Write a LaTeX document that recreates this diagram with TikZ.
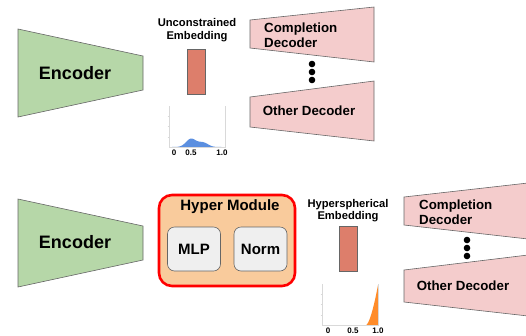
\documentclass[tikz,border=0pt]{standalone}
\usepackage{fontspec}
\setmainfont{Liberation Sans}
\definecolor{encgreen}{HTML}{B6D7A8}
\definecolor{decpink}{HTML}{F4CCCC}
\definecolor{embred}{HTML}{DD7E6B}
\definecolor{hyperorange}{HTML}{F9CB9C}
\definecolor{boxgray}{HTML}{EFEFEF}
\definecolor{edgegray}{HTML}{666666}
\definecolor{axisgray}{HTML}{D9D9D9}
\definecolor{histblue}{HTML}{5B8FE0}
\definecolor{historange}{HTML}{FF8C2A}
\begin{document}
\begin{tikzpicture}[x=1pt,y=-1pt,
  shapeline/.style={draw=edgegray,line width=0.6pt},
  bigtxt/.style={font=\fontsize{18}{20}\selectfont\bfseries,inner sep=0pt},
  dectxt/.style={font=\fontsize{13.3}{14.5}\selectfont\bfseries,inner sep=0pt,align=left},
  embtxt/.style={font=\fontsize{11.2}{12.5}\selectfont\bfseries,inner sep=0pt,align=center},
  modtxt/.style={font=\fontsize{15}{17}\selectfont\bfseries,inner sep=0pt},
  ticktxt/.style={font=\fontsize{8}{9}\selectfont\bfseries,inner sep=0pt},
  axisline/.style={draw=axisgray,line width=0.6pt},
  dot/.style={fill=black}]
\useasboundingbox (0,0) rectangle (526,335);
\begin{scope}
\clip (0,0) rectangle (526,335);
% ---------------- top row ----------------
\draw[shapeline,fill=encgreen] (18,29) -- (143,56) -- (143,90) -- (18,117) -- cycle;
\node[bigtxt] (enc1) at (75,73) {Encoder};
\node[embtxt] (emb1lbl) at (197,30) {Unconstrained\\Embedding};
\draw[draw=edgegray,line width=0.6pt,fill=embred] (187,49) rectangle (205,94);
\node (emb1) at (196,71.5) {};
% histogram top
\fill[histblue] plot[domain=170:225,samples=80,smooth] (\x,{147-8.2*exp(-((\x-191)/7)^2)-4.5*exp(-((\x-203)/7)^2)}) -- (225,147) -- (170,147) -- cycle;
\draw[axisline] (169,106) -- (169,147) -- (225,147) -- (225,106);
\foreach \yy in {116,126,137} \draw[axisline] (167.5,\yy) -- (169,\yy);
\node[ticktxt] (t1a) at (174,153) {0};
\node[ticktxt] (t1b) at (191,153) {0.5};
\node[ticktxt] (t1c) at (222,153) {1.0};
% decoders top
\draw[shapeline,fill=decpink] (250,20) -- (374,7) -- (374,62) -- (250,48) -- cycle;
\node[dectxt,anchor=west] (cd1) at (264,35) {Completion\\Decoder};
\foreach \yy in {64,72,80} \fill[dot] (312,\yy) circle (3.3);
\draw[shapeline,fill=decpink] (250,97) -- (374,81) -- (374,141) -- (250,127) -- cycle;
\node[dectxt] (od1) at (309,111) {Other Decoder};
% ---------------- bottom row ----------------
\draw[shapeline,fill=encgreen] (18,199) -- (143,226) -- (143,260) -- (18,287) -- cycle;
\node[bigtxt] (enc2) at (75,242) {Encoder};
\draw[draw=red,line width=2.6pt,fill=hyperorange,rounded corners=13pt] (159,195) rectangle (295,286);
\node[modtxt] (hm) at (230,207) {Hyper Module};
\draw[shapeline,fill=boxgray,rounded corners=7pt] (167.5,227) rectangle (220.5,271);
\node[modtxt] (mlp) at (194,249) {MLP};
\draw[shapeline,fill=boxgray,rounded corners=7pt] (234,227) rectangle (287,271);
\node[modtxt] (norm) at (260.5,249) {Norm};
\node[embtxt] (emb2lbl) at (348,210.5) {Hyperspherical\\Embedding};
\draw[draw=edgegray,line width=0.6pt,fill=embred] (339,226) rectangle (357,271);
\node (emb2) at (348,248.5) {};
% histogram bottom
\fill[historange] plot[domain=366:378,samples=40,smooth] (\x,{325-40*((\x-366)/12)^1.6}) -- (378,325) -- cycle;
\draw[axisline] (322,284) -- (322,325) -- (378,325) -- (378,284);
\foreach \yy in {294,304,315} \draw[axisline] (320.5,\yy) -- (322,\yy);
\node[ticktxt] (t2a) at (328,331) {0};
\node[ticktxt] (t2b) at (353,331) {0.5};
\node[ticktxt] (t2c) at (378,331) {1.0};
% decoders bottom
\draw[shapeline,fill=decpink] (404,197) -- (528,183) -- (528,239) -- (404,225) -- cycle;
\node[dectxt,anchor=west] (cd2) at (419,212) {Completion\\Decoder};
\foreach \yy in {240,248,256} \fill[dot] (467,\yy) circle (3.3);
\draw[shapeline,fill=decpink] (404,270) -- (528,255) -- (528,316) -- (404,302) -- cycle;
\node[dectxt] (od2) at (463,286) {Other Decoder};
\end{scope}
\end{tikzpicture}
\end{document}
